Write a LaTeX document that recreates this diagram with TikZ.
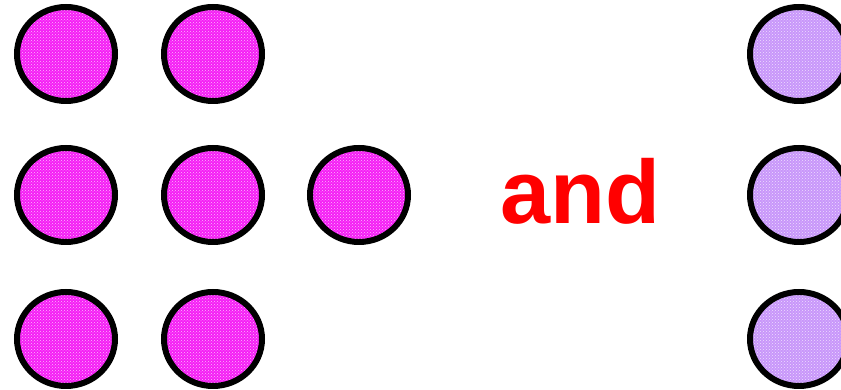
\documentclass[tikz,border=0pt]{standalone}
\usepackage{fontspec}
\setmainfont{Liberation Sans}
\usetikzlibrary{shapes.geometric,patterns}
\definecolor{pinkfill}{RGB}{245,30,245}
\definecolor{lavfill}{RGB}{200,150,250}
\tikzset{
  dot/.style={draw=black, line width=6pt, ellipse, inner sep=0pt,
    minimum width=98pt, minimum height=94pt},
  pinkdot/.style={dot, preaction={fill=pinkfill}, preaction={pattern=crosshatch dots, pattern color=white!70!pinkfill}},
  lavdot/.style={dot, preaction={fill=lavfill}, preaction={pattern=crosshatch dots, pattern color=white!70!lavfill}},
}
\begin{document}
\begin{tikzpicture}[x=1pt,y=1pt]
\useasboundingbox (0,0) rectangle (841,390);
\clip (0,0) rectangle (841,390);
\node[pinkdot] (a1) at (66,336) {};
\node[pinkdot] (a2) at (213,336) {};
\node[pinkdot] (b1) at (66,195) {};
\node[pinkdot] (b2) at (213,195) {};
\node[pinkdot] (b3) at (359,195) {};
\node[pinkdot] (c1) at (66,51) {};
\node[pinkdot] (c2) at (213,51) {};
\node[lavdot] (r1) at (799,336) {};
\node[lavdot] (r2) at (799,195) {};
\node[lavdot] (r3) at (799,51) {};
\node[anchor=base, text=red, font=\fontsize{90}{90}\selectfont\bfseries, inner sep=0pt] (and) at (580,166) {and};
\end{tikzpicture}
\end{document}
